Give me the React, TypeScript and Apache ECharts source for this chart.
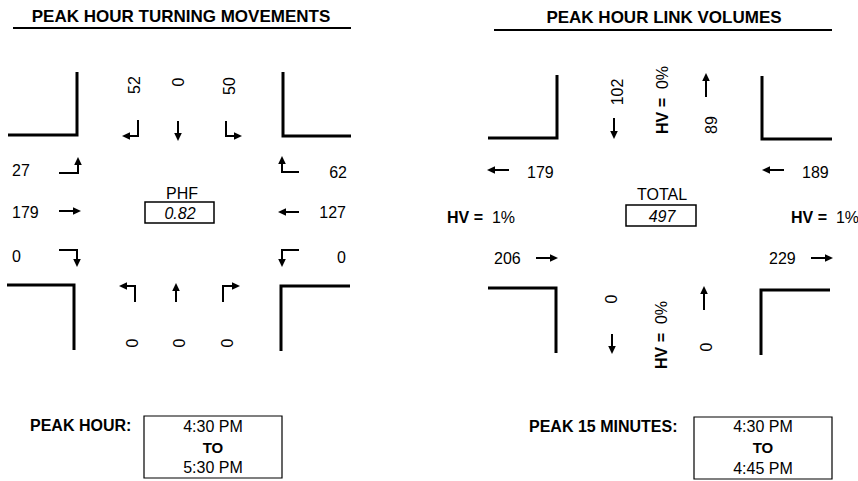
import React, { useEffect, useRef } from "react";
import * as echarts from "echarts";

// ---- Data ----
const leftTitle = "PEAK HOUR TURNING MOVEMENTS";
const rightTitle = "PEAK HOUR LINK VOLUMES";
const sbValues = [52, 0, 50]; // right, through, left (southbound)
const ebValues = [27, 179, 0]; // left, through, right (eastbound)
const wbValues = [62, 127, 0]; // right, through, left (westbound)
const nbValues = [0, 0, 0]; // left, through, right (northbound)
const phfValue = "0.82";
const linkInbound = [102, 206, 189, 0]; // N, W, E, S legs (entering)
const linkOutbound = [89, 179, 229, 0]; // N, W, E, S legs (leaving)
const hvPercent = [0, 1, 1, 0]; // N, W, E, S
const totalValue = 497;
const peakHour = ["4:30 PM", "TO", "5:30 PM"];
const peak15 = ["4:30 PM", "TO", "4:45 PM"];

const FONT = '"Liberation Sans", Arial, sans-serif';
type P = [number, number];

function arrow(pts: P[]): any[] {
  const n = pts.length;
  const [x1, y1] = pts[n - 2];
  const [x2, y2] = pts[n - 1];
  const len = Math.hypot(x2 - x1, y2 - y1);
  const dx = (x2 - x1) / len;
  const dy = (y2 - y1) / len;
  const L = 8;
  const W = 3.8;
  const bx = x2 - dx * L;
  const by = y2 - dy * L;
  const linePts = pts.slice(0, n - 1).concat([[bx + dx * 1, by + dy * 1]]);
  return [
    {
      type: "polyline",
      shape: { points: linePts },
      style: { stroke: "#000", lineWidth: 2, fill: null },
    },
    {
      type: "polygon",
      shape: {
        points: [
          [x2, y2],
          [bx - dy * W, by + dx * W],
          [bx + dy * W, by - dx * W],
        ],
      },
      style: { fill: "#000" },
    },
  ];
}

function corner(pts: P[]): any {
  return {
    type: "polyline",
    shape: { points: pts },
    style: { stroke: "#000", lineWidth: 3, fill: null },
  };
}

function txt(
  text: string,
  x: number,
  y: number,
  opts: { align?: string; size?: number; weight?: string; style?: string; rot?: boolean; rich?: any } = {}
): any {
  return {
    type: "text",
    x,
    y,
    rotation: opts.rot ? Math.PI / 2 : 0,
    style: {
      text,
      fill: "#000",
      fontFamily: FONT,
      fontSize: opts.size ?? 16,
      fontWeight: opts.weight ?? "normal",
      fontStyle: opts.style ?? "normal",
      align: opts.align ?? "center",
      verticalAlign: "middle",
      rich: opts.rich,
    },
  };
}

function hvText(v: number) {
  return "{b|HV =}  " + v + "%";
}
const hvRich = { b: { fontWeight: "bold", fontSize: 16, fontFamily: FONT, fill: "#000" } };

function rect(x: number, y: number, w: number, h: number, lw = 1.5): any {
  return {
    type: "rect",
    shape: { x, y, width: w, height: h },
    style: { fill: "#fff", stroke: "#000", lineWidth: lw },
  };
}

function buildGraphics(): any[] {
  const g: any[] = [];
  // ---------- Left panel ----------
  g.push(txt(leftTitle, 181, 16, { size: 17, weight: "bold" }));
  g.push({ type: "line", shape: { x1: 13, y1: 28, x2: 351, y2: 28 }, style: { stroke: "#000", lineWidth: 2 } });
  g.push(corner([[8, 135], [77, 135], [77, 72]]));
  g.push(corner([[283, 72], [283, 136], [351, 136]]));
  g.push(corner([[7, 285], [74, 285], [74, 350]]));
  g.push(corner([[281, 351], [281, 286], [350, 286]]));

  // Southbound
  g.push(txt(String(sbValues[0]), 134, 85, { rot: true }));
  g.push(txt(String(sbValues[1]), 178, 82, { rot: true }));
  g.push(txt(String(sbValues[2]), 229, 86, { rot: true }));
  g.push(...arrow([[138, 120], [138, 136], [122, 136]]));
  g.push(...arrow([[178, 121], [178, 141]]));
  g.push(...arrow([[226, 121], [226, 136], [242, 136]]));

  // Eastbound
  g.push(txt(String(ebValues[0]), 12, 170, { align: "left" }));
  g.push(txt(String(ebValues[1]), 12, 212, { align: "left" }));
  g.push(txt(String(ebValues[2]), 12, 256, { align: "left" }));
  g.push(...arrow([[59, 173], [78, 173], [78, 157]]));
  g.push(...arrow([[59, 211], [81, 211]]));
  g.push(...arrow([[59, 250], [77, 250], [77, 267]]));

  // Westbound
  g.push(txt(String(wbValues[0]), 347, 172, { align: "right" }));
  g.push(txt(String(wbValues[1]), 346, 212, { align: "right" }));
  g.push(txt(String(wbValues[2]), 346, 257, { align: "right" }));
  g.push(...arrow([[299, 172], [282, 172], [282, 156]]));
  g.push(...arrow([[299, 212], [278, 212]]));
  g.push(...arrow([[299, 250], [282, 250], [282, 267]]));

  // Northbound
  g.push(...arrow([[135, 302], [135, 286], [119, 286]]));
  g.push(...arrow([[176, 302], [176, 283]]));
  g.push(...arrow([[223, 302], [223, 286], [240, 286]]));
  g.push(txt(String(nbValues[0]), 132, 343, { rot: true }));
  g.push(txt(String(nbValues[1]), 179, 343, { rot: true }));
  g.push(txt(String(nbValues[2]), 227, 343, { rot: true }));

  // PHF
  g.push(txt("PHF", 182, 193));
  g.push(rect(145, 202, 69, 21));
  g.push(txt(phfValue, 180, 213, { style: "italic" }));

  // Peak hour
  g.push(txt("PEAK HOUR:", 30, 425, { align: "left", weight: "bold" }));
  g.push(rect(144, 416, 138, 62, 1.2));
  g.push(txt(peakHour[0], 213, 426));
  g.push(txt(peakHour[1], 213, 447, { weight: "bold", size: 15 }));
  g.push(txt(peakHour[2], 213, 467));

  // ---------- Right panel ----------
  g.push(txt(rightTitle, 664, 17, { size: 17, weight: "bold" }));
  g.push({ type: "line", shape: { x1: 494, y1: 30, x2: 832, y2: 30 }, style: { stroke: "#000", lineWidth: 2 } });
  g.push(corner([[488, 138], [557, 138], [557, 75]]));
  g.push(corner([[762, 76], [762, 139], [832, 139]]));
  g.push(corner([[488, 288], [556, 288], [556, 353]]));
  g.push(corner([[761, 355], [761, 290], [830, 290]]));

  // North leg
  g.push(txt(String(linkInbound[0]), 617, 92, { rot: true }));
  g.push(...arrow([[614, 118], [614, 139]]));
  g.push(txt(hvText(hvPercent[0]), 662, 100, { rot: true, rich: hvRich }));
  g.push(...arrow([[706, 97], [706, 73]]));
  g.push(txt(String(linkOutbound[0]), 711, 125, { rot: true }));

  // West / East legs
  g.push(...arrow([[509, 170], [487, 170]]));
  g.push(txt(String(linkOutbound[1]), 527, 172, { align: "left" }));
  g.push(...arrow([[784, 170], [762, 170]]));
  g.push(txt(String(linkInbound[2]), 802, 172, { align: "left" }));
  g.push(txt(hvText(hvPercent[1]), 447, 217, { align: "left", rich: hvRich }));
  g.push(txt(hvText(hvPercent[2]), 791, 217, { align: "left", rich: hvRich }));
  g.push(txt(String(linkInbound[1]), 494, 258, { align: "left" }));
  g.push(...arrow([[536, 258], [558, 258]]));
  g.push(txt(String(linkOutbound[2]), 769, 258, { align: "left" }));
  g.push(...arrow([[811, 258], [833, 258]]));

  // Total
  g.push(txt("TOTAL", 662, 194));
  g.push(rect(626, 205, 70, 21));
  g.push(txt(String(totalValue), 662, 216, { style: "italic" }));

  // South leg
  g.push(txt(String(linkOutbound[3]), 611, 299, { rot: true }));
  g.push(...arrow([[612, 334], [612, 354]]));
  g.push(txt(hvText(hvPercent[3]), 661, 335, { rot: true, rich: hvRich }));
  g.push(...arrow([[704, 310], [704, 286]]));
  g.push(txt(String(linkInbound[3]), 706, 347, { rot: true }));

  // Peak 15 minutes
  g.push(txt("PEAK 15 MINUTES:", 529, 426, { align: "left", weight: "bold" }));
  g.push(rect(694, 417, 138, 62, 1.2));
  g.push(txt(peak15[0], 763, 426));
  g.push(txt(peak15[1], 763, 447, { weight: "bold", size: 15 }));
  g.push(txt(peak15[2], 763, 468));

  return g;
}

export default function App() {
  const ref = useRef<HTMLDivElement>(null);
  useEffect(() => {
    if (!ref.current) return;
    const chart = echarts.init(ref.current, null, { renderer: "svg" });
    chart.setOption({
      animation: false,
      backgroundColor: "#fff",
      graphic: { elements: buildGraphics() },
    });
    return () => chart.dispose();
  }, []);
  return (
    <div
      ref={ref}
      style={{ position: "absolute", left: 0, top: 0, width: 858, height: 481, background: "#fff" }}
    />
  );
}
